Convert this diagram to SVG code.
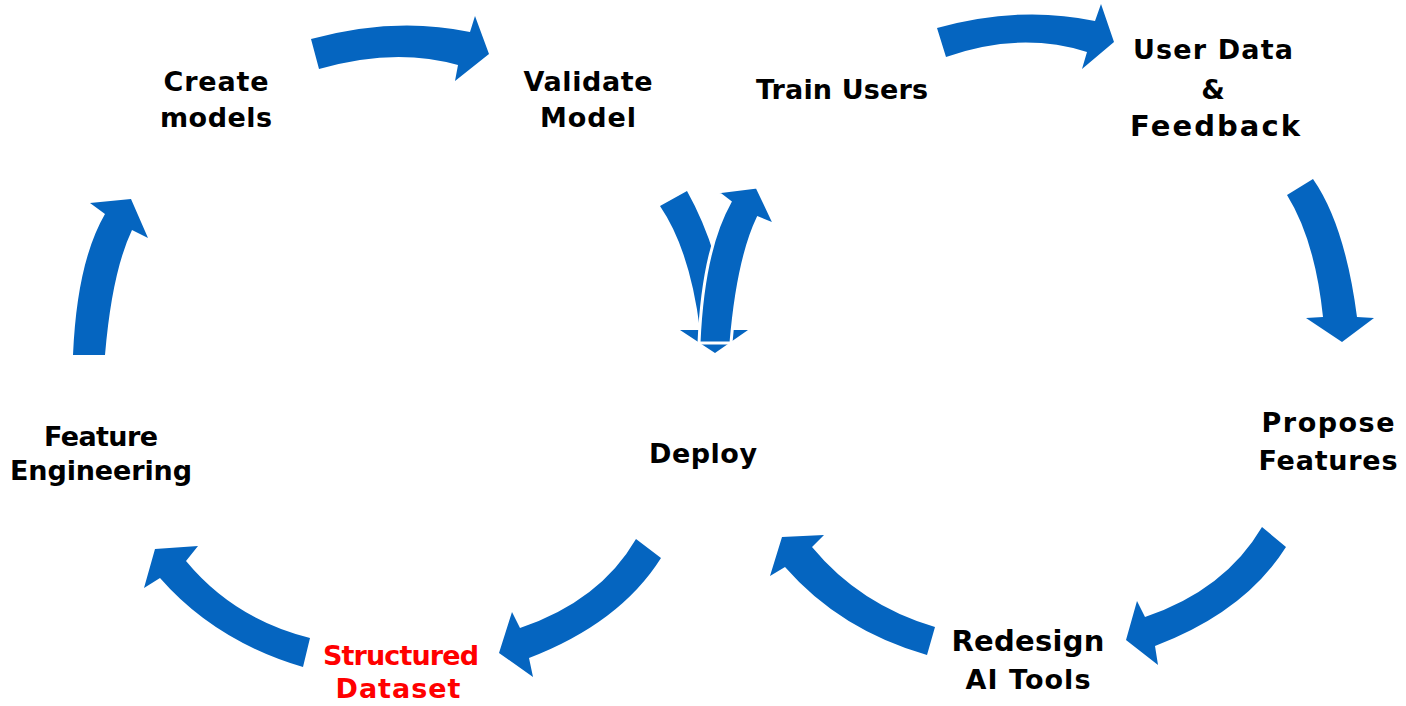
<svg xmlns="http://www.w3.org/2000/svg" width="1406" height="706" viewBox="0 0 1406 706">
<style>
.arrow{fill:#0565C0;}
.arrow-over{fill:#0565C0;stroke:#FFFFFF;stroke-width:3;stroke-linejoin:miter;}
.label{font-family:"DejaVu Sans","Liberation Sans",sans-serif;font-weight:bold;font-size:27px;fill:#000000;text-anchor:middle;}
.wide{font-size:29px;}
.red{fill:#FF0000;}
</style>
<rect width="1406" height="706" fill="#FFFFFF"/>
<g id="connectors">
<path class="arrow" d="M311,39 Q395,16 470,32 L475,16 L489,54 L455,81 L458,65 Q395,47 319,69 Z"/>
<path class="arrow" d="M937,28 Q1020,5 1095,21 L1101,4 L1114,42 L1082,69 L1087,52 Q1020,31 946,57 Z"/>
<path class="arrow" d="M1287,195 Q1315,240 1323,317 L1306,318 L1342,342 L1374,318 L1357,317 Q1345,225 1313,179 Z"/>
<path class="arrow" d="M1262,527 L1286,547 Q1245,612 1155,646 L1158,665 L1126,640 L1137,601 L1145,617 Q1225,590 1262,527 Z"/>
<path class="arrow" d="M935,627 L927,655 Q840,630 785,567 L770,576 L782,537 L824,535 L812,547 Q860,605 935,627 Z"/>
<path class="arrow" d="M636,539 L661,558 Q620,623 529,658 L533,677 L499,653 L512,612 L520,628 Q600,601 636,539 Z"/>
<path class="arrow" d="M310,638 L303,667 Q215,641 160,578 L144,588 L155,549 L198,546 L186,561 Q234,619 310,638 Z"/>
<path class="arrow" d="M73,355 Q77,262 105,214 L90,203 L131,199 L148,238 L132,230 Q112,272 105,355 Z"/>
<path class="arrow" d="M660,206 Q690,250 700,330 L680,330 L715,353 L748,330 L730,330 Q720,250 687,191 Z"/>
<path class="arrow-over" d="M699,343 Q703,250 730,202 L717,192 L757,187 L775,225 L758,218 Q738,260 731,343 Z"/>
</g>
<g id="create-models">
<text class="label" x="216" y="91" textLength="105">Create</text>
<text class="label" x="216" y="127" textLength="112">models</text>
</g>
<g id="validate-model">
<text class="label" x="588" y="91" textLength="129">Validate</text>
<text class="label" x="588" y="127" textLength="96">Model</text>
</g>
<g id="train-users">
<text class="label" x="842" y="99" textLength="172">Train Users</text>
</g>
<g id="user-data-feedback">
<text class="label" x="1213" y="59" textLength="160">User Data</text>
<text class="label" x="1213" y="99">&amp;</text>
<text class="label wide" x="1215" y="136" textLength="170">Feedback</text>
</g>
<g id="propose-features">
<text class="label" x="1328" y="432" textLength="133">Propose</text>
<text class="label" x="1328" y="470" textLength="139">Features</text>
</g>
<g id="redesign-ai-tools">
<text class="label wide" x="1028" y="651" textLength="153">Redesign</text>
<text class="label" x="1028" y="689" textLength="125">AI Tools</text>
</g>
<g id="deploy">
<text class="label" x="703" y="463" textLength="108">Deploy</text>
</g>
<g id="structured-dataset">
<text class="label red" x="401" y="665" textLength="156">Structured</text>
<text class="label red" x="398" y="698" textLength="125">Dataset</text>
</g>
<g id="feature-engineering">
<text class="label" x="101" y="446" textLength="114">Feature</text>
<text class="label" x="101" y="480" textLength="182">Engineering</text>
</g>
</svg>
